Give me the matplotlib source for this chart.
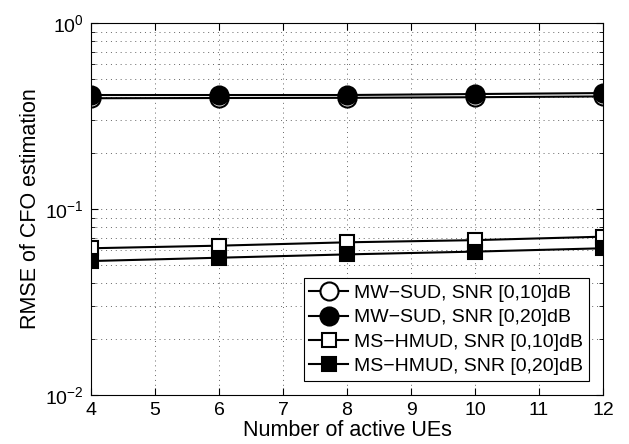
import matplotlib
matplotlib.use('Agg')
import matplotlib.pyplot as plt
from matplotlib.ticker import LogLocator, NullFormatter

plt.rcParams['font.family'] = ['Liberation Sans', 'DejaVu Sans']
plt.rcParams['mathtext.fontset'] = 'custom'
plt.rcParams['mathtext.rm'] = 'Liberation Sans'

ues = [4, 6, 8, 10, 12]
mw_sud_10 = [0.394, 0.395, 0.396, 0.399, 0.403]
mw_sud_20 = [0.41, 0.41, 0.41, 0.415, 0.42]
ms_hmud_10 = [0.0615, 0.0635, 0.0662, 0.068, 0.071]
ms_hmud_20 = [0.0525, 0.0547, 0.057, 0.059, 0.0615]
labels = ['MW\u2212SUD, SNR [0,10]dB', 'MW\u2212SUD, SNR [0,20]dB',
          'MS\u2212HMUD, SNR [0,10]dB', 'MS\u2212HMUD, SNR [0,20]dB']

fig = plt.figure(figsize=(6.29, 4.44), dpi=100)
ax = fig.add_axes([0.1447, 0.1104, 0.814, 0.8378])

ax.plot(ues, mw_sud_10, '-o', color='k', mfc='white', mec='k', ms=13, mew=1.5, lw=1.5, label=labels[0])
ax.plot(ues, mw_sud_20, '-o', color='k', mfc='k', mec='k', ms=13, mew=1.5, lw=1.5, label=labels[1])
ax.plot(ues, ms_hmud_10, '-s', color='k', mfc='white', mec='k', ms=9.5, mew=1.5, lw=1.5, label=labels[2])
ax.plot(ues, ms_hmud_20, '-s', color='k', mfc='k', mec='k', ms=9.5, mew=1.5, lw=1.5, label=labels[3])

ax.set_yscale('log')
ax.set_xlim(4, 12)
ax.set_ylim(1e-2, 1)
ax.set_xticks(range(4, 13))
ax.yaxis.set_minor_locator(LogLocator(base=10, subs=range(2, 10)))
ax.yaxis.set_minor_formatter(NullFormatter())
ax.grid(True, which='major', linestyle=(0, (1, 4)), color='#666666', lw=0.7)
ax.grid(True, which='minor', axis='y', linestyle=(0, (1, 4)), color='#666666', lw=0.7)
ax.tick_params(which='both', direction='in', top=True, right=True, labelsize=14)
ax.tick_params(which='minor', length=3)
ax.tick_params(which='major', length=5, pad=5)
for s in ax.spines.values():
    s.set_linewidth(0.8)

ax.set_xlabel('Number of active UEs', fontsize=15.5, labelpad=1)
ax.set_ylabel('RMSE of CFO estimation', fontsize=15.5, labelpad=3)

leg = ax.legend(loc='lower right', fontsize=14, frameon=True, fancybox=False,
                edgecolor='k', framealpha=1, handlelength=2.0, borderpad=0.3,
                labelspacing=0.35, handletextpad=0.3, borderaxespad=0.72)
leg.get_frame().set_linewidth(0.8)

fig.savefig('out.png', dpi=100)
